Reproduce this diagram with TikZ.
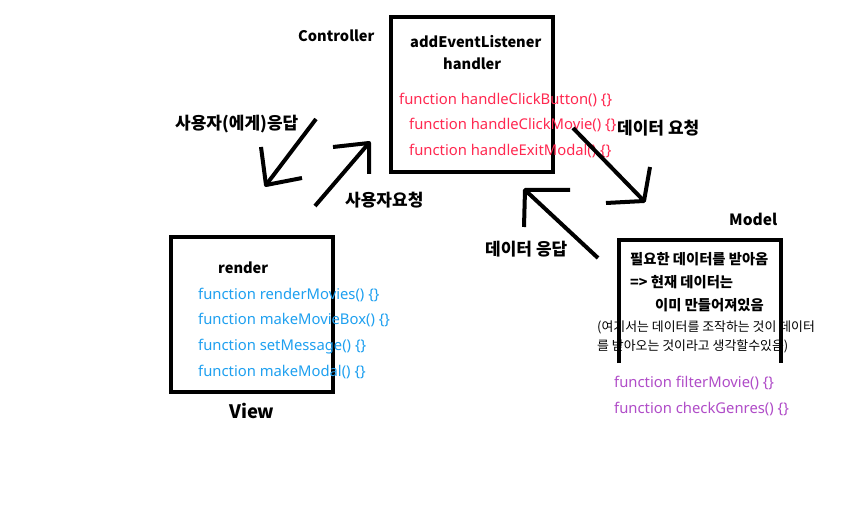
\documentclass[tikz,border=0pt]{standalone}
\usepackage{fontspec}
\setmainfont{Noto Sans}
\newfontfamily\kr{Noto Sans CJK KR}
\definecolor{fred}{RGB}{255,40,80}
\definecolor{fblue}{RGB}{30,160,240}
\definecolor{fpurple}{RGB}{176,76,200}
\tikzset{
  boxline/.style={draw=black, line width=4bp},
  arr/.style={draw=black, line width=4bp, line join=round},
  txt/.style={inner sep=0pt, anchor=base west},
  lbl/.style={txt, font=\kr\fontsize{14.6bp}{18bp}\selectfont\bfseries},
  krl/.style={txt, font=\kr\fontsize{17bp}{20bp}\selectfont\bfseries},
  krs/.style={txt, font=\kr\fontsize{14.3bp}{17bp}\selectfont\bfseries},
  krn/.style={txt, font=\kr\fontsize{12.9bp}{15bp}\selectfont},
  fn/.style={txt, font=\fontsize{14.8bp}{18bp}\selectfont},
}
\begin{document}
\begin{tikzpicture}[x=1bp,y=-1bp]
\path[use as bounding box] (0,0) rectangle (843,507);
\fill[white] (0,0) rectangle (843,507);

% boxes
\node[boxline, minimum width=162bp, minimum height=155bp, inner sep=0pt] (ctrl) at (472,94.5) {};
\node[boxline, minimum width=162bp, minimum height=155bp, inner sep=0pt] (view) at (252,314.5) {};
\coordinate (mbl) at (619,363);
\coordinate (mtl) at (619,240);
\coordinate (mtr) at (781,240);
\coordinate (mbr) at (781,363);
\draw[boxline, line join=miter] (mbl) -- (mtl) -- (mtr) -- (mbr);

% controller texts
\node[lbl] (ctrlname) at (298,42) {Controller};
\node[lbl] (ael) at (410,48) {addEventListener};
\node[lbl] (hdl) at (443,70) {handler};
\node[fn, text=fred] (c1) at (399,104.5) {function handleClickButton() \{\}};
\node[fn, text=fred] (c2) at (409,130) {function handleClickMovie() \{\}};
\node[fn, text=fred] (c3) at (409,155.5) {function handleExitModal() \{\}};

% view texts
\node[lbl] (rnd) at (218,274) {render};
\node[fn, text=fblue] (v1) at (198,299.5) {function renderMovies() \{\}};
\node[fn, text=fblue] (v2) at (198,325) {function makeMovieBox() \{\}};
\node[fn, text=fblue] (v3) at (198,350.5) {function setMessage() \{\}};
\node[fn, text=fblue] (v4) at (198,376) {function makeModal() \{\}};
\node[lbl, font=\kr\fontsize{18.5bp}{22bp}\selectfont\bfseries] (viewname) at (229,418) {View};

% model texts
\node[lbl, font=\kr\fontsize{15.5bp}{18bp}\selectfont\bfseries] (modelname) at (729,226) {Model};
\node[krs] (m1) at (630,265) {필요한 데이터를 받아옴};
\node[krs] (m2) at (630,288) {=> 현재 데이터는};
\node[krs] (m3) at (655,311) {이미 만들어져있음};
\node[krn] (m4) at (597,332) {(여기서는 데이터를 조작하는 것이 데이터};
\node[krn] (m5) at (597,350) {를 받아오는 것이라고 생각할수있음)};
\node[fn, text=fpurple] (p1) at (614,387) {function filterMovie() \{\}};
\node[fn, text=fpurple] (p2) at (614,413) {function checkGenres() \{\}};

% arrow labels
\node[krl] (resp) at (175,130) {사용자(에게)응답};
\node[krl] (req) at (345,207) {사용자요청};
\node[krl] (dreq) at (617,135) {데이터 요청};
\node[krl] (dresp) at (485,256) {데이터 응답};

% arrow 1: user response (down-left)
\coordinate (a1t) at (316,119);
\coordinate (a1h) at (266,185);
\coordinate (a1b1) at (261,147);
\coordinate (a1b2) at (302,178);
\draw[arr] (a1t) -- (a1h);
\draw[arr] (a1b1) -- (a1h) -- (a1b2);

% arrow 2: user request (up-right)
\coordinate (a2t) at (315,206);
\coordinate (a2h) at (369,143);
\coordinate (a2b1) at (333,147);
\coordinate (a2b2) at (369,174);
\draw[arr] (a2t) -- (a2h);
\draw[arr] (a2b1) -- (a2h) -- (a2b2);

% arrow 3: data request (down-right)
\coordinate (a3t) at (573,128);
\coordinate (a3h) at (644,201);
\coordinate (a3b1) at (650,167);
\coordinate (a3b2) at (606,203);
\draw[arr] (a3t) -- (a3h);
\draw[arr] (a3b1) -- (a3h) -- (a3b2);

% arrow 4: data response (up-left)
\coordinate (a4t) at (598,258);
\coordinate (a4h) at (525,190);
\coordinate (a4b1) at (570,190);
\coordinate (a4b2) at (524,227);
\draw[arr] (a4t) -- (a4h);
\draw[arr] (a4b1) -- (a4h) -- (a4b2);
\end{tikzpicture}
\end{document}
